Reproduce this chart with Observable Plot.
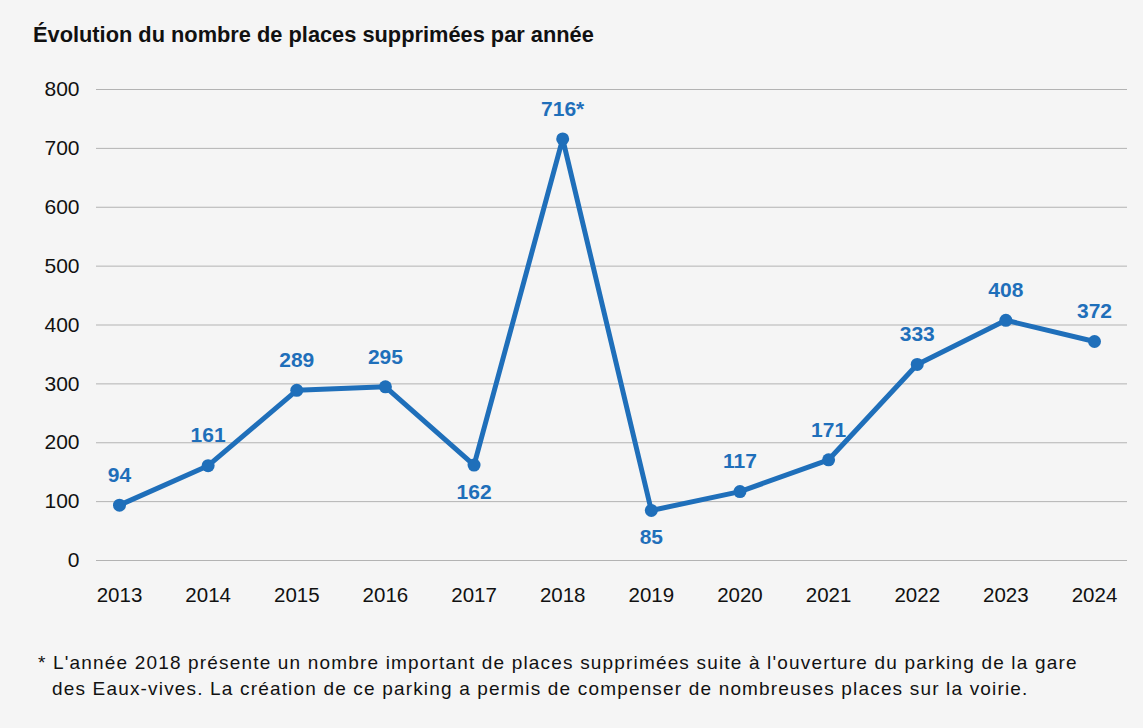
<!DOCTYPE html>
<html>
<head>
<meta charset="utf-8">
<script src="https://cdn.jsdelivr.net/npm/d3@7"></script>
<script src="https://cdn.jsdelivr.net/npm/@observablehq/plot@0.6"></script>
<style>
  html, body { margin: 0; padding: 0; background: #f5f5f5; }
  #page { position: relative; width: 1143px; height: 728px; background: #f5f5f5; font-family: "Liberation Sans", Arial, Helvetica, sans-serif; color: #111; }
  #title { position: absolute; left: 33px; top: 24px; font-size: 21.8px; font-weight: bold; line-height: 22px; white-space: nowrap; }
  #chart { position: absolute; left: 0; top: 60px; }
  #note { position: absolute; left: 38px; top: 650px; font-size: 19px; line-height: 26px; letter-spacing: 1.17px; white-space: nowrap; }
  #note .l2 { padding-left: 14px; }
</style>
</head>
<body>
<div id="page">
  <div id="title">Évolution du nombre de places supprimées par année</div>
  <div id="chart"></div>
  <div id="note">* L'année 2018 présente un nombre important de places supprimées suite à l'ouverture du parking de la gare<br><span class="l2">des Eaux-vives. La création de ce parking a permis de compenser de nombreuses places sur la voirie.</span></div>
</div>
<script>
const years = [2013, 2014, 2015, 2016, 2017, 2018, 2019, 2020, 2021, 2022, 2023, 2024];
const values = [94, 161, 289, 295, 162, 716, 85, 117, 171, 333, 408, 372];
const valueLabels = ["94", "161", "289", "295", "162", "716*", "85", "117", "171", "333", "408", "372"];
const yTicks = [0, 100, 200, 300, 400, 500, 600, 700, 800];

const data = years.map((year, i) => ({
  year,
  value: values[i],
  label: valueLabels[i],
  below: i > 0 && i < values.length - 1 && values[i] < values[i - 1] && values[i] < values[i + 1]
}));

const blue = "#1f6fba";
const font = "'Liberation Sans', Arial, Helvetica, sans-serif";

const chart = Plot.plot({
  width: 1143,
  height: 560,
  marginLeft: 96,
  marginRight: 16,
  marginTop: 29,
  marginBottom: 60,
  style: { fontFamily: font, fontSize: "21px", color: "#111", background: "transparent", overflow: "visible" },
  x: { type: "linear", domain: [years[0], years[years.length - 1]], range: [119, 1094], label: null },
  y: { domain: [0, 800], label: null },
  marks: [
    Plot.ruleY(yTicks, { stroke: "#b3b3b3", strokeWidth: 1 }),
    Plot.axisY({ ticks: yTicks, tickSize: 0, tickPadding: 17, fontSize: 21, label: null }),
    Plot.axisX({ ticks: years, tickSize: 0, tickPadding: 27, fontSize: 20.5, label: null, tickFormat: d => String(d) }),
    Plot.line(data, { x: "year", y: "value", stroke: blue, strokeWidth: 5, strokeLinejoin: "round", strokeLinecap: "round" }),
    Plot.dot(data, { x: "year", y: "value", r: 6.5, fill: blue }),
    Plot.text(data.filter(d => !d.below), { x: "year", y: "value", text: "label", dy: -30, fill: blue, fontWeight: "bold", fontSize: 21 }),
    Plot.text(data.filter(d => d.below), { x: "year", y: "value", text: "label", dy: 27, fill: blue, fontWeight: "bold", fontSize: 21 })
  ]
});
document.getElementById("chart").appendChild(chart);
</script>
</body>
</html>
